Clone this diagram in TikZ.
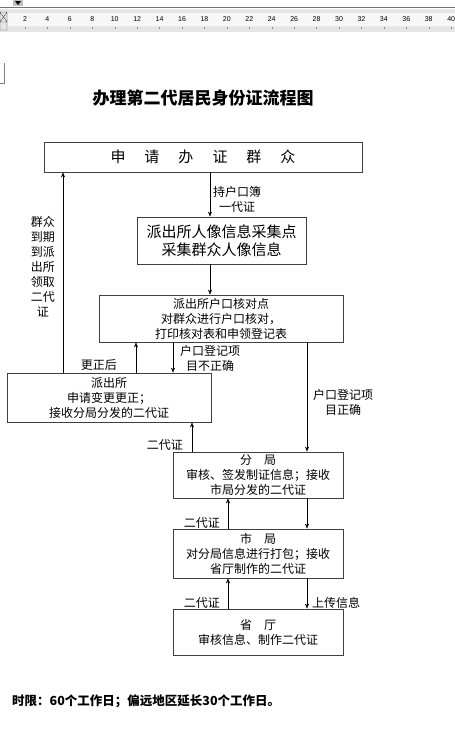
\documentclass[tikz,border=0pt]{standalone}
\usepackage{fontspec}
\setmainfont{Noto Sans CJK SC}
\newfontfamily\rulerfont{Liberation Sans}
\usetikzlibrary{arrows.meta}

\begin{document}
\begin{tikzpicture}[x=1pt,y=-1pt,>={Stealth[length=5pt,width=4pt]},
  box/.style={draw=black!75,line width=0.8pt,inner sep=0pt,align=center,
    font=\fontsize{12}{15}\selectfont},
  lbl/.style={inner sep=0pt,align=center,font=\fontsize{12}{15}\selectfont}]
  \useasboundingbox[fill=white] (0,0) rectangle (455,729);
  % ruler strip of the editor
  \fill[black!10] (0,9) rectangle (455,32);
  \fill[black!3] (8,13) rectangle (455,26);
  \draw[black!55,line width=1pt] (0,7.5) -- (455,7.5);
  \fill[black!25] (13,0) rectangle (23,6);
  \fill (15,1) -- (21,1) -- (18,5) -- cycle;
  \draw[black!70] (0,12) rectangle (7,22) (0,12) -- (7,22) (7,12) -- (0,22)
    (0,22) rectangle (7,30);
  \foreach \n in {2,4,...,40} {
    \node[font=\rulerfont\fontsize{7}{8}\selectfont,inner sep=0pt]
      at ({25+(\n/2-1)*22.43},19) {\n};
    \draw[black!45] ({25+(\n/2-1)*22.43},27) -- ({25+(\n/2-1)*22.43},29);
  }
  \draw[black!50] (4,63) -- (4,83) -- (0,83);

  \node[font=\fontsize{17}{20}\selectfont\bfseries] (title) at (203,98)
    {办理第二代居民身份证流程图};

  % boxes
  \node[box,minimum width=318,minimum height=30,font=\fontsize{15}{18}\selectfont]
    (qunzhong) at (203,157)
    {申\hspace{19pt}请\hspace{19pt}办\hspace{19pt}证\hspace{19pt}群\hspace{19pt}众};
  \node[box,minimum width=169,minimum height=47,font=\fontsize{15}{18}\selectfont]
    (caiji) at (221.5,240.5) {派出所人像信息采集点\\采集群众人像信息};
  \node[box,minimum width=244,minimum height=47] (hedui) at (221,318.5)
    {派出所户口核对点\\对群众进行户口核对，\\打印核对表和申领登记表};
  \node[box,minimum width=204,minimum height=49] (pcs) at (109,397.5)
    {派出所\\申请变更更正；\\接收分局分发的二代证};
  \node[box,minimum width=170,minimum height=46] (fenju) at (258,475)
    {分\hspace{1em}局\\审核、签发制证信息；接收\\市局分发的二代证};
  \node[box,minimum width=170,minimum height=49] (shiju) at (258,553.5)
    {市\hspace{1em}局\\对分局信息进行打包；接收\\省厅制作的二代证};
  \node[box,minimum width=170,minimum height=46] (shengting) at (258,632)
    {省\hspace{1em}厅\\审核信息、制作二代证};

  % columns of the connectors
  \coordinate (xa) at (63,0);
  \coordinate (xb) at (136,0);
  \coordinate (xc) at (173,0);
  \coordinate (xd) at (192,0);
  \coordinate (xe) at (210,0);
  \coordinate (xf) at (228,0);
  \coordinate (xg) at (307,0);

  \draw[->] (xe |- qunzhong.south) -- node[lbl,pos=0.62,right=3pt] {持户口簿\\一代证}
    (xe |- caiji.north);
  \draw[->] (xe |- caiji.south) -- (xe |- hedui.north);
  \draw[->] (xc |- hedui.south) -- node[lbl,pos=0.53,right=7pt] {户口登记项\\目不正确}
    (xc |- pcs.north);
  \draw[->] (xb |- pcs.north) -- node[lbl,pos=0.26,left=19pt] {更正后}
    (xb |- hedui.south);
  \draw[->] (xa |- pcs.north) -- node[lbl,pos=0.53,left=8pt]
    {群众\\到期\\到派\\出所\\领取\\二代\\证} (xa |- qunzhong.south);
  \draw[->] (xg |- hedui.south) -- node[lbl,pos=0.545,right=6pt] {户口登记项\\目正确}
    (xg |- fenju.north);
  \draw[->] (xd |- fenju.north) -- node[lbl,pos=0.23,left=9pt] {二代证}
    (xd |- pcs.south);
  \draw[->] (xg |- fenju.south) -- (xg |- shiju.north);
  \draw[->] (xf |- shiju.north) -- node[lbl,pos=0.19,left=8pt] {二代证}
    (xf |- fenju.south);
  \draw[->] (xg |- shiju.south) -- node[lbl,pos=0.8,right=5pt] {上传信息}
    (xg |- shengting.north);
  \draw[->] (xf |- shengting.north) -- node[lbl,pos=0.19,left=8pt] {二代证}
    (xf |- shiju.south);

  \node[anchor=west,inner sep=0pt,font=\fontsize{12.5}{15}\selectfont\bfseries]
    (shixian) at (12,701) {时限：60个工作日；偏远地区延长30个工作日。};
\end{tikzpicture}
\end{document}
